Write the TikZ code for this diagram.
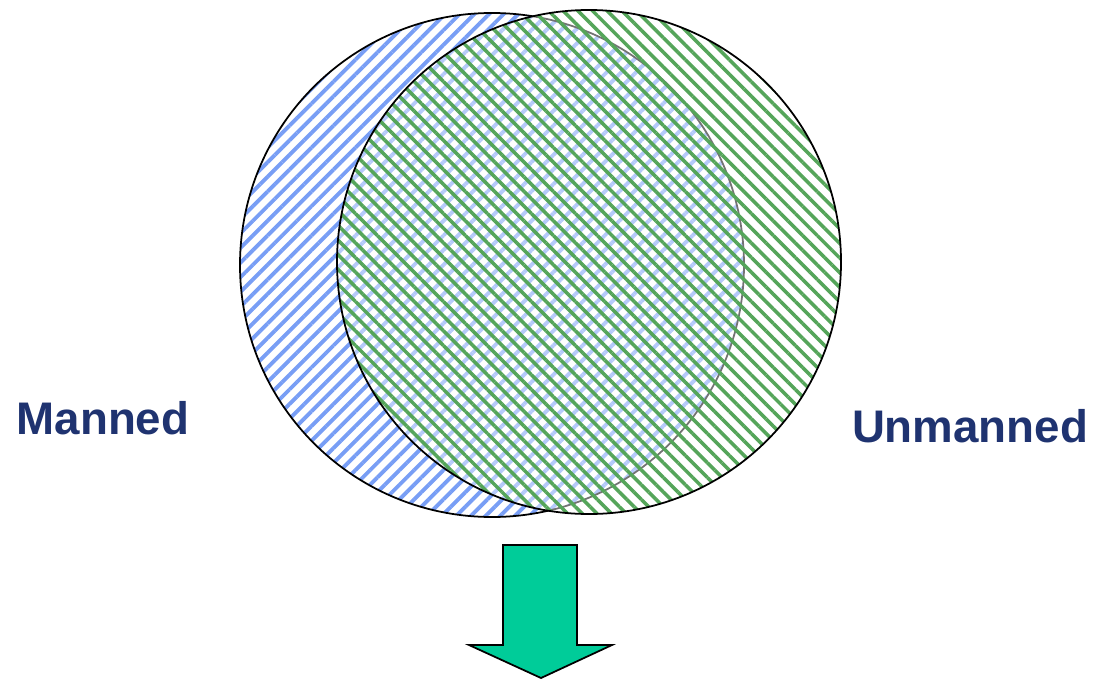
\documentclass[tikz,border=0pt]{standalone}
\usepackage{fontspec}
\setmainfont{Liberation Sans}
\usetikzlibrary{patterns.meta}
\definecolor{hatchblue}{RGB}{120,158,245}
\definecolor{hatchgreen}{RGB}{85,165,90}
\definecolor{arrowgreen}{RGB}{0,204,153}
\definecolor{labelnavy}{RGB}{31,51,112}
\tikzset{
  bluehatch/.style={pattern={Lines[angle=45,distance=5.9pt,line width=2.2pt]}, pattern color=hatchblue},
  greenhatch/.style={pattern={Lines[angle=-45,distance=5.9pt,line width=2pt]}, pattern color=hatchgreen},
  label/.style={font=\bfseries\fontsize{26}{30}\selectfont, text=labelnavy, inner sep=0pt},
  bigarrow/.style={fill=arrowgreen, draw=black, line width=1pt, line join=miter}
}
\begin{document}
\begin{tikzpicture}[x=0.02cm, y=-0.02cm]
  \useasboundingbox (0,0) rectangle (1097,679);
  % 两个圆
  \coordinate (manned) at (492,265);
  \coordinate (unmanned) at (589,262);
  \fill[bluehatch] (manned) circle (252);
  \draw[line width=1pt] (manned) circle (252);
  \fill[white, fill opacity=0.45] (unmanned) circle (252);
  \fill[greenhatch] (unmanned) circle (252);
  \draw[line width=1pt] (unmanned) circle (252);
  % 标签
  \node[label] (mannedlabel) at (103,418) {Manned};
  \node[label] (unmannedlabel) at (970,426) {Unmanned};
  % 箭头
  \draw[bigarrow] (503,545) -- (577,545) -- (577,645) -- (612,645)
    -- (541,678) -- (469,645) -- (503,645) -- cycle;
\end{tikzpicture}
\end{document}
